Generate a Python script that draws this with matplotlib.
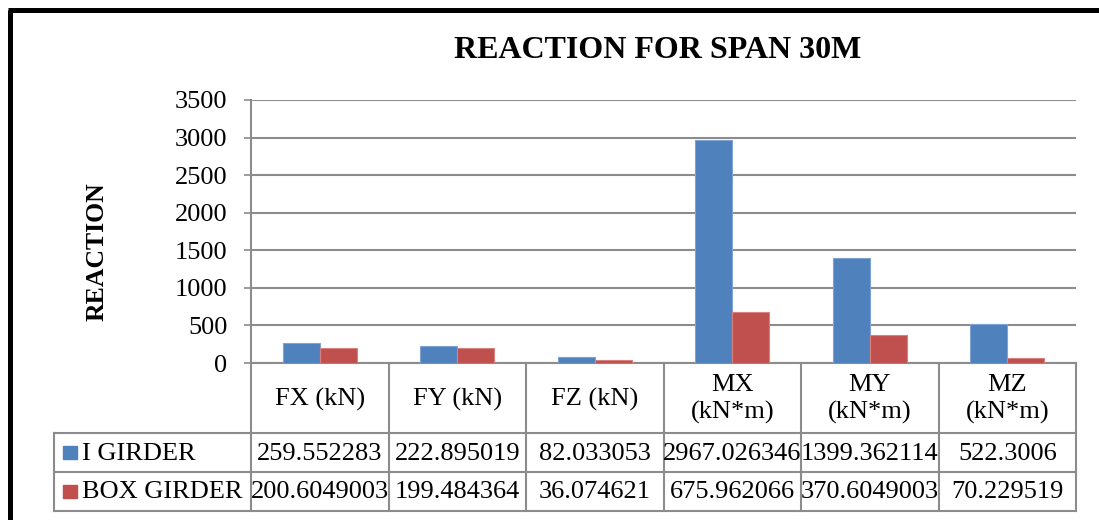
import matplotlib
matplotlib.use("Agg")
import matplotlib.pyplot as plt
from matplotlib.patches import Rectangle

plt.rcParams['font.family'] = ['Liberation Serif', 'DejaVu Serif']

categories = ['FX (kN)', 'FY (kN)', 'FZ (kN)', 'MX\n(kN*m)', 'MY\n(kN*m)', 'MZ\n(kN*m)']
series_names = ['I GIRDER', 'BOX GIRDER']
i_girder = [259.552283, 222.895019, 82.033053, 2967.026346, 1399.362114, 522.3006]
box_girder = [200.6049003, 199.484364, 36.074621, 675.962066, 370.6049003, 70.229519]
i_labels = ['259.552283', '222.895019', '82.033053', '2967.026346', '1399.362114', '522.3006']
box_labels = ['200.6049003', '199.484364', '36.074621', '675.962066', '370.6049003', '70.229519']
yticks = [0, 500, 1000, 1500, 2000, 2500, 3000, 3500]

colors = ['#4F81BD', '#C0504D']
edges = ['#7FA3D3', '#D88280']
grid_c = '#8C8C8C'
W, H = 1099, 520
fs = 19

fig = plt.figure(figsize=(W / 100, H / 100), dpi=100)

# plot area in pixels
px0, px1, py0, py1 = 251, 1076, 100, 363
ax = fig.add_axes([px0 / W, (H - py1) / H, (px1 - px0) / W, (py1 - py0) / H])
n = len(categories)
xs = list(range(n))
bw = 0.27
ax.bar([x - bw / 2 for x in xs], i_girder, bw, color=colors[0], edgecolor=edges[0], linewidth=0.8, zorder=3)
ax.bar([x + bw / 2 for x in xs], box_girder, bw, color=colors[1], edgecolor=edges[1], linewidth=0.8, zorder=3)
ax.set_xlim(-0.5, n - 0.5)
ax.set_ylim(0, 3500)
ax.set_yticks(yticks)
ax.set_yticklabels([str(t) for t in yticks], fontsize=fs)
ax.set_xticks([])
ax.tick_params(axis='y', length=5, width=1.2, color=grid_c, pad=12)
ax.yaxis.grid(True, color=grid_c, linewidth=1.5, zorder=0)
ax.set_axisbelow(True)
for s in ['top', 'right']:
    ax.spines[s].set_visible(False)
for s in ['left', 'bottom']:
    ax.spines[s].set_color(grid_c)
    ax.spines[s].set_linewidth(1.5)

# overlay in pixel coordinates for the title, table and frame
ov = fig.add_axes([0, 0, 1, 1], facecolor='none')
ov.set_xlim(0, W)
ov.set_ylim(H, 0)
ov.axis('off')

ov.text(658, 50, 'REACTION FOR SPAN 30M', fontsize=23, fontweight='bold', ha='center', va='center')
ov.text(97, 252, 'REACTION', fontsize=18.5, fontweight='bold', ha='center', va='center', rotation=90)

# data table
cw = (px1 - px0) / n
r0, r1, r2, r3 = 363, 433, 472, 511
lx = 54
lk = dict(color=grid_c, linewidth=1.5)
for i in range(n + 1):
    ov.plot([px0 + i * cw] * 2, [r0, r3], **lk)
ov.plot([lx, lx], [r1, r3], **lk)
for y in [r1, r2, r3]:
    ov.plot([lx, px1], [y, y], **lk)
for i, c in enumerate(categories):
    ov.text(px0 + (i + 0.5) * cw, (r0 + r1) / 2 + 1, c, fontsize=fs, ha='center', va='center', linespacing=1.25)
for row, (name, labels, col) in enumerate([(series_names[0], i_labels, colors[0]),
                                           (series_names[1], box_labels, colors[1])]):
    ya, yb = [(r1, r2), (r2, r3)][row]
    yc = (ya + yb) / 2
    ov.add_patch(Rectangle((63, yc - 7), 14, 13, color=col))
    ov.text(82, yc + 1, name, fontsize=fs, ha='left', va='center')
    for i, lab in enumerate(labels):
        ov.text(px0 + (i + 0.5) * cw, yc + 1, lab, fontsize=fs, ha='center', va='center')

# outer frame (cropped on right and bottom)
ov.plot([9.5, 9.5], [9.5, H + 5], color='black', linewidth=3.6, solid_capstyle='butt')
ov.plot([7.7, W + 5], [9.7, 9.7], color='black', linewidth=3.6, solid_capstyle='butt')

fig.savefig('out.png', dpi=100)
